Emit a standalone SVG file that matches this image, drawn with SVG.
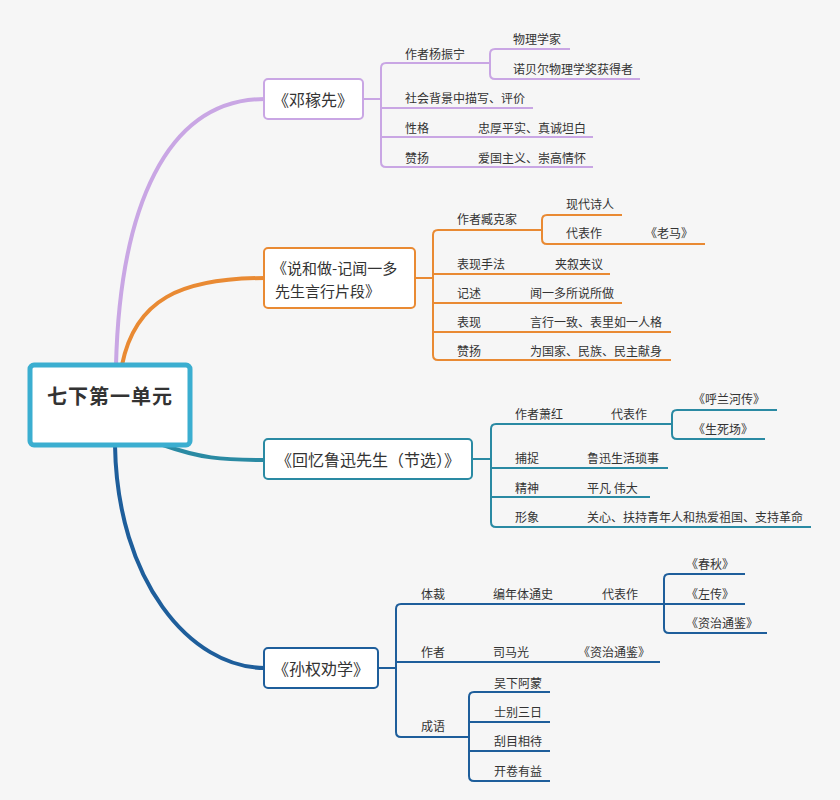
<svg xmlns="http://www.w3.org/2000/svg" width="840" height="800" viewBox="0 0 840 800">
<style>
text{font-family:"Noto Sans CJK SC","Noto Sans",sans-serif;fill:#333;dominant-baseline:central}
.t{font-size:12px}
.h{font-size:16px}
.h2{font-size:15px}
.c{text-anchor:middle}
.box{fill:#fff;stroke-width:2}
.ln{fill:none;stroke-width:2}
.main{fill:none;stroke-width:4;stroke-linecap:round}
.p{stroke:#c9a6e4}.o{stroke:#e98a33}.g{stroke:#2a8aa3}.b{stroke:#1e5e9b}
</style>
<rect x="0" y="0" width="840" height="800" fill="#f6f6f6"/>
<g id="connectors">
<path class="main p" d="M116,365 C120,210 165,99 265,99"/>
<path class="main o" d="M122,365 C135,300 180,278 265,278"/>
<path class="main g" d="M163,445 C200,458 220,460 265,460"/>
<path class="main b" d="M115,445 C117,580 190,668 265,668"/>
<g class="ln p">
<path d="M363,99 H381"/>
<path d="M490,63 H386 Q381,63 381,68 V162 Q381,167 386,167 H593"/>
<path d="M381,108 H533"/><path d="M381,137 H593"/>
<path d="M570,49 H495 Q490,49 490,54 V74 Q490,79 495,79 H640"/>
</g>
<g class="ln o">
<path d="M415,278 H433"/>
<path d="M542,230 H438 Q433,230 433,235 V355 Q433,360 438,360 H671"/>
<path d="M433,274 H610"/><path d="M433,303 H622"/><path d="M433,332 H671"/>
<path d="M622,215 H547 Q542,215 542,220 V239 Q542,244 547,244 H705"/>
</g>
<g class="ln g">
<path d="M472,459 H491"/>
<path d="M672,424 H496 Q491,424 491,429 V522 Q491,527 496,527 H811"/>
<path d="M491,468 H668"/><path d="M491,497 H650"/>
<path d="M777,410 H677 Q672,410 672,415 V434 Q672,439 677,439 H765"/>
</g>
<g class="ln b">
<path d="M378,668 H396"/>
<path d="M664,604 H401 Q396,604 396,609 V732 Q396,737 401,737 H469"/>
<path d="M396,662 H660"/>
<path d="M550,692 H474 Q469,692 469,697 V776 Q469,781 474,781 H550"/>
<path d="M469,722 H550"/><path d="M469,751 H550"/>
<path d="M745,574 H669 Q664,574 664,579 V628 Q664,633 669,633 H767"/>
<path d="M664,604 H745"/>
</g>
</g>
<g id="root">
<rect x="30" y="365" width="160" height="80" rx="4" fill="#fff" stroke="#3baed0" stroke-width="5"/>
<text x="110" y="395" class="c" style="font-size:20px;font-weight:bold;letter-spacing:1px">七下第一单元</text>
</g>
<g id="deng">
<rect class="box p" x="264" y="79" width="99" height="40" rx="4"/>
<text class="h c" x="313" y="99">《邓稼先》</text>
<text class="t" x="405" y="53">作者杨振宁</text>
<text class="t" x="513" y="38">物理学家</text>
<text class="t" x="513" y="68">诺贝尔物理学奖获得者</text>
<text class="t" x="405" y="97">社会背景中描写、评价</text>
<text class="t" x="405" y="127">性格</text>
<text class="t" x="478" y="127">忠厚平实、真诚坦白</text>
<text class="t" x="405" y="157">赞扬</text>
<text class="t" x="478" y="157">爱国主义、崇高情怀</text>
</g>
<g id="shuo">
<rect class="box o" x="264" y="248" width="151" height="60" rx="4"/>
<text class="h2" x="272" y="267">《说和做-记闻一多</text>
<text class="h2" x="275" y="290">先生言行片段》</text>
<text class="t" x="457" y="218">作者臧克家</text>
<text class="t" x="566" y="203">现代诗人</text>
<text class="t" x="566" y="232">代表作</text>
<text class="t" x="645" y="232">《老马》</text>
<text class="t" x="457" y="263">表现手法</text>
<text class="t" x="555" y="263">夹叙夹议</text>
<text class="t" x="457" y="292">记述</text>
<text class="t" x="530" y="292">闻一多所说所做</text>
<text class="t" x="457" y="321">表现</text>
<text class="t" x="530" y="321">言行一致、表里如一人格</text>
<text class="t" x="457" y="350">赞扬</text>
<text class="t" x="530" y="350">为国家、民族、民主献身</text>
</g>
<g id="huiyi">
<rect class="box g" x="264" y="439" width="208" height="40" rx="4"/>
<text class="h c" x="368" y="459">《回忆鲁迅先生（节选）》</text>
<text class="t" x="515" y="413">作者萧红</text>
<text class="t" x="611" y="413">代表作</text>
<text class="t" x="693" y="398">《呼兰河传》</text>
<text class="t" x="693" y="428">《生死场》</text>
<text class="t" x="515" y="457">捕捉</text>
<text class="t" x="587" y="457">鲁迅生活琐事</text>
<text class="t" x="515" y="487">精神</text>
<text class="t" x="587" y="487">平凡 伟大</text>
<text class="t" x="515" y="516">形象</text>
<text class="t" x="587" y="516">关心、扶持青年人和热爱祖国、支持革命</text>
</g>
<g id="sunquan">
<rect class="box b" x="264" y="648" width="114" height="40" rx="4"/>
<text class="h c" x="321" y="668">《孙权劝学》</text>
<text class="t" x="421" y="593">体裁</text>
<text class="t" x="493" y="593">编年体通史</text>
<text class="t" x="602" y="593">代表作</text>
<text class="t" x="686" y="563">《春秋》</text>
<text class="t" x="686" y="593">《左传》</text>
<text class="t" x="686" y="622">《资治通鉴》</text>
<text class="t" x="421" y="651">作者</text>
<text class="t" x="493" y="651">司马光</text>
<text class="t" x="578" y="651">《资治通鉴》</text>
<text class="t" x="421" y="725">成语</text>
<text class="t" x="494" y="682">吴下阿蒙</text>
<text class="t" x="494" y="711">士别三日</text>
<text class="t" x="494" y="740">刮目相待</text>
<text class="t" x="494" y="770">开卷有益</text>
</g>
</svg>
